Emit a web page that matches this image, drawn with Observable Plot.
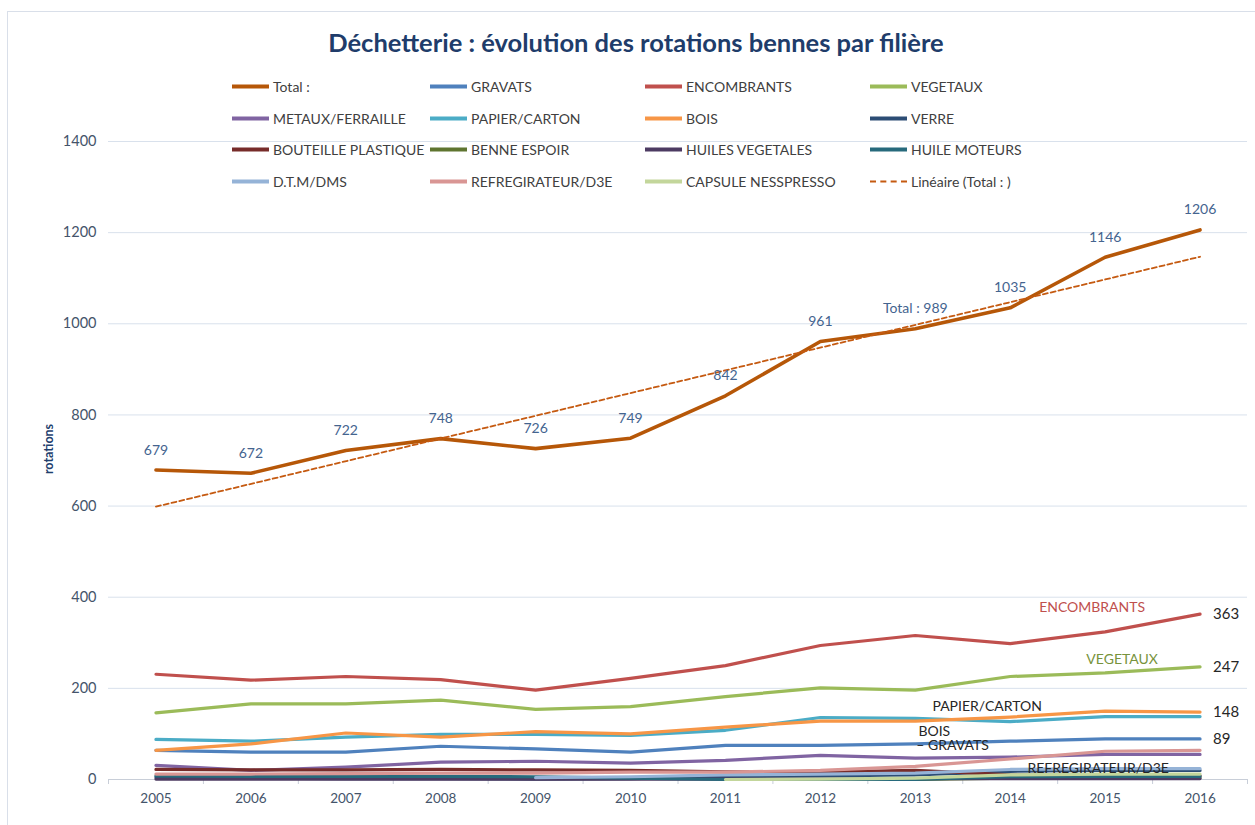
<!DOCTYPE html>
<html>
<head>
<meta charset="utf-8">
<script src="https://cdn.jsdelivr.net/npm/d3@7"></script>
<script src="https://cdn.jsdelivr.net/npm/@observablehq/plot@0.6"></script>
<style>
  html, body { margin: 0; padding: 0; background: #fff; }
  #wrap { position: relative; width: 1255px; height: 825px; overflow: hidden; font-family: Lato, "Open Sans", sans-serif; }
  #frame { position: absolute; left: 7px; top: 11px; width: 1300px; height: 900px; border: 1px solid #d9dfe9; box-sizing: border-box; }
  #title { position: absolute; left: 0; width: 1272px; top: 27px; text-align: center; font-size: 25.5px; font-weight: 700; color: #203c6a; }
  #ylab { position: absolute; left: 48px; top: 449px; transform: translate(-50%, -50%) rotate(-90deg); font-size: 12.5px; font-weight: 700; color: #1f3f6e; white-space: nowrap; }
  .leg { position: absolute; display: flex; align-items: center; font-size: 14px; color: #404040; white-space: nowrap; transform: translateY(-50%); }
  .sw { width: 37px; height: 0; margin-right: 4px; }
  #chart { position: absolute; left: 0; top: 0; }
</style>
</head>
<body>
<div id="wrap">
  <div id="frame"></div>
  <div id="chart"></div>
  <div id="title">Déchetterie : évolution des rotations bennes par filière</div>
  <div id="ylab">rotations</div>
</div>
<script>
// ---- data ----
const years = [2005, 2006, 2007, 2008, 2009, 2010, 2011, 2012, 2013, 2014, 2015, 2016];
const yTicks = [0, 200, 400, 600, 800, 1000, 1200, 1400];

const seriesNames = ["Total :", "GRAVATS", "ENCOMBRANTS", "VEGETAUX", "METAUX/FERRAILLE", "PAPIER/CARTON", "BOIS", "VERRE",
  "BOUTEILLE PLASTIQUE", "BENNE ESPOIR", "HUILES VEGETALES", "HUILE MOTEURS", "D.T.M/DMS", "REFREGIRATEUR/D3E", "CAPSULE NESSPRESSO"];
const seriesColors = ["#b65708", "#4f81bd", "#c0504d", "#9bbb59", "#8064a2", "#4bacc6", "#f79646", "#2c4d75",
  "#772c2a", "#5f7530", "#4d3b62", "#276a7c", "#95b3d7", "#d99694", "#c3d69b"];

const total       = [679, 672, 722, 748, 726, 749, 842, 961, 989, 1035, 1146, 1206];
const gravats     = [64, 60, 60, 73, 67, 60, 75, 75, 78, 84, 89, 89];
const encombrants = [231, 218, 226, 219, 196, 222, 250, 294, 316, 298, 324, 363];
const vegetaux    = [146, 166, 166, 174, 154, 160, 182, 201, 196, 226, 234, 247];
const metaux      = [31, 20, 27, 38, 40, 36, 42, 53, 47, 49, 55, 55];
const papier      = [88, 84, 93, 99, 99, 97, 108, 136, 134, 127, 138, 138];
const bois        = [64, 78, 102, 93, 105, 100, 115, 128, 128, 137, 150, 148];
const verre       = [5, 3, 2, 2, 1, 2, 6, 8, 10, 18, 20, 20];
const bouteille   = [22, 21, 21, 22, 21, 20, 17, 16, 20, 10, 8, 8];
const espoir      = [null, null, null, null, null, null, null, null, 0, 3, 4, 4];
const huilesVeg   = [1, 1, 1, 1, 1, 1, 1, 1, 2, 2, 2, 2];
const huileMot    = [8, 7, 7, 7, 6, 3, 0, 0, 0, 6, 7, 7];
const dtm         = [null, null, null, null, 4, 6, 10, 12, 14, 22, 24, 24];
const refrig      = [12, 12, 13, 14, 14, 16, 16, 20, 29, 45, 62, 64];
const capsule     = [null, null, null, null, null, null, 0, 1, 3, 10, 12, 12];

const seriesValues = [total, gravats, encombrants, vegetaux, metaux, papier, bois, verre,
  bouteille, espoir, huilesVeg, huileMot, dtm, refrig, capsule];

// ---- build table ----
const rows = [];
seriesNames.forEach((name, i) => {
  years.forEach((yr, j) => rows.push({series: name, year: yr, value: seriesValues[i][j]}));
});
const totalRows = rows.filter(d => d.series === "Total :");
const otherRows = rows.filter(d => d.series !== "Total :");
const pick = (name, yr) => rows.find(d => d.series === name && d.year === yr);
const bounds = years.map(y => y - 0.5).concat([years[years.length - 1] + 0.5]);

const font = "Lato, 'Open Sans', sans-serif";
const axisColor = "#44546a";

function nameLabel(name, yr, text, dx, dy, color, anchor = "middle") {
  return Plot.text([pick(name, yr)], {x: "year", y: "value", text: () => text, dx, dy,
    fill: color, fontSize: 14, textAnchor: anchor, fontFamily: font});
}

const chart = Plot.plot({
  width: 1255,
  height: 825,
  marginLeft: 108,
  marginRight: 8,
  marginTop: 141,
  marginBottom: 46,
  style: {fontFamily: font, background: "transparent", overflow: "visible"},
  x: {type: "linear", domain: [2004.5, 2016.5]},
  y: {domain: [0, 1400]},
  color: {domain: seriesNames, range: seriesColors},
  marks: [
    Plot.gridY(yTicks.filter(t => t > 0), {stroke: "#d9e1ec", strokeOpacity: 1}),
    Plot.ruleY([0], {stroke: "#c8ced8"}),
    Plot.ruleX(bounds, {y1: 0, y2: -11, stroke: "#c8ced8"}),
    Plot.axisY({ticks: yTicks, tickSize: 0, tickPadding: 12, fontSize: 14.5, fill: axisColor, label: null, tickFormat: d => String(d)}),
    Plot.axisX({ticks: years, tickSize: 0, tickPadding: 14, fontSize: 13.5, fill: axisColor, label: null, tickFormat: d => String(d)}),
    Plot.line(totalRows, {x: "year", y: "value", stroke: "series", strokeWidth: 3.6}),
    Plot.line(otherRows, {x: "year", y: "value", z: "series", stroke: "series", strokeWidth: 3.2}),
    Plot.linearRegressionY(totalRows, {x: "year", y: "value", stroke: "#c55a11", strokeWidth: 1.8, strokeDasharray: "5,3", ci: 0}),
    Plot.text(totalRows, {x: "year", y: "value", text: d => (d.year === 2013 ? "Total : " : "") + d.value,
      dy: -20, fill: "#44648f", fontSize: 14, fontFamily: font}),
    Plot.text(["ENCOMBRANTS", "VEGETAUX", "BOIS", "GRAVATS"].map(n => pick(n, 2016)),
      {x: "year", y: "value", text: d => String(d.value), dx: 13, textAnchor: "start", fill: "#262626", fontSize: 15, fontFamily: font}),
    nameLabel("ENCOMBRANTS", 2015, "ENCOMBRANTS", -13, -24, "#c0504d"),
    nameLabel("VEGETAUX", 2015, "VEGETAUX", 17, -13, "#77933c"),
    nameLabel("PAPIER/CARTON", 2014, "PAPIER/CARTON", -23, -15, "#262626"),
    nameLabel("PAPIER/CARTON", 2013, "BOIS", 19, 13, "#262626"),
    nameLabel("GRAVATS", 2013, "– GRAVATS", 1, 2, "#262626", "start"),
    nameLabel("REFREGIRATEUR/D3E", 2015, "REFREGIRATEUR/D3E", -7, 17, "#262626")
  ]
});
document.getElementById("chart").appendChild(chart);

// ---- legend ----
const legendItems = seriesNames.map((n, i) => ({label: n, color: seriesColors[i], dashed: false}))
  .concat([{label: "Linéaire (Total : )", color: "#c55a11", dashed: true}]);
const colX = [232, 430, 645, 870];
const rowY = [86, 118, 149, 181];
const wrap = document.getElementById("wrap");
legendItems.forEach((it, k) => {
  const el = document.createElement("div");
  el.className = "leg";
  el.style.left = colX[k % 4] + "px";
  el.style.top = rowY[Math.floor(k / 4)] + "px";
  const sw = document.createElement("span");
  sw.className = "sw";
  sw.style.borderTop = it.dashed ? `2px dashed ${it.color}` : `4px solid ${it.color}`;
  el.appendChild(sw);
  el.appendChild(document.createTextNode(it.label));
  wrap.appendChild(el);
});
</script>
</body>
</html>
